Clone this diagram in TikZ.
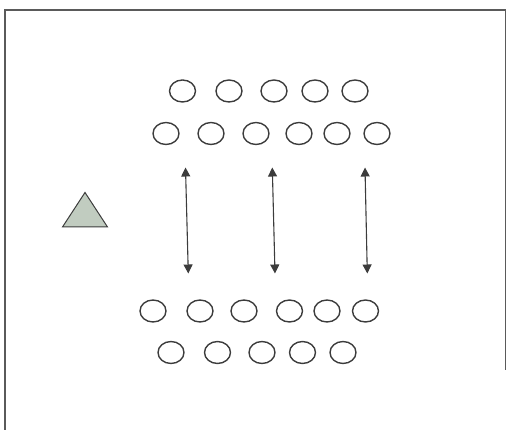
\documentclass[tikz,border=0pt]{standalone}
\usetikzlibrary{shapes.geometric,arrows.meta}
\definecolor{edge}{HTML}{3C3C3C}
\definecolor{framec}{HTML}{5A5A5A}
\definecolor{trifill}{HTML}{C1CCC0}
\tikzset{
  ring/.style={ellipse,draw=edge,line width=1.4pt,minimum width=26pt,minimum height=22pt,inner sep=0pt},
  dblarrow/.style={draw=edge,line width=1.1pt,{Triangle[length=9pt,width=9pt]}-{Triangle[length=9pt,width=9pt]}},
  framestyle/.style={draw=framec,line width=1.3pt}
}
\begin{document}
\begin{tikzpicture}[x=1pt,y=-1pt]
\useasboundingbox (0,0) rectangle (507,430);
% frame
\draw[framestyle] (5,430) -- (5,10) -- (505.5,10) -- (505.5,370);
% row 1
\foreach \x [count=\i] in {182.5,229,274,315,355} \node[ring] (r1c\i) at (\x,91) {};
% row 2
\foreach \x [count=\i] in {166,211,256,299,337,377} \node[ring] (r2c\i) at (\x,133.5) {};
% row 3
\foreach \x [count=\i] in {153,200,244,289.5,327,365.5} \node[ring] (r3c\i) at (\x,311) {};
% row 4
\foreach \x [count=\i] in {171,217.5,262,302.5,343} \node[ring] (r4c\i) at (\x,352.5) {};
% triangle
\draw[draw=edge,line width=1pt,fill=trifill,line join=miter] (62.5,227) -- (85,192.5) -- (107.5,227) -- cycle;
% arrows
\coordinate (a1t) at (185.5,167.5);
\coordinate (a1b) at (188.3,273.5);
\coordinate (a2t) at (272.3,167.5);
\coordinate (a2b) at (275,273.5);
\coordinate (a3t) at (365,167.5);
\coordinate (a3b) at (367.3,273.5);
\draw[dblarrow] (a1t) -- (a1b);
\draw[dblarrow] (a2t) -- (a2b);
\draw[dblarrow] (a3t) -- (a3b);
\end{tikzpicture}
\end{document}
